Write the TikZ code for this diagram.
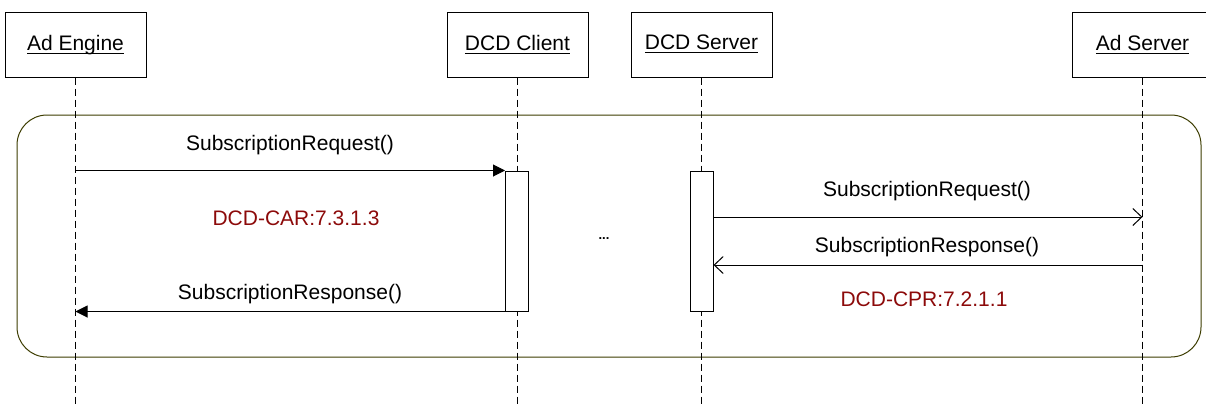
\documentclass[tikz,border=0pt]{standalone}
\usepackage{amsmath}
\usepackage{fontspec}
\setmainfont{Liberation Sans}
\usetikzlibrary{arrows.meta}

\definecolor{refred}{RGB}{140,10,10}
\definecolor{frameolive}{RGB}{60,60,0}
\newcommand\actorname[1]{\underline{\smash[b]{#1}}}

\begin{document}
\begin{tikzpicture}[x=1pt,y=-1pt,line width=1pt,
  actor/.style={draw,minimum width=141pt,minimum height=65pt,inner sep=0pt,font=\fontsize{21}{25}\selectfont},
  lifeline/.style={dash pattern=on 7pt off 4pt},
  actbar/.style={draw,fill=white,minimum width=23pt,minimum height=140pt,inner sep=0pt},
  call/.style={-{Triangle[length=12pt,width=12pt]}},
  answer/.style={-{Straight Barb[length=9pt,width=17pt,line width=1pt]}},
  lbl/.style={font=\fontsize{21}{25}\selectfont},
  reqid/.style={lbl,text=refred}]
\useasboundingbox (0,0) rectangle (1206,407);

% participants
\node[actor] (engine)   at (75.5,44.5)   {\actorname{Ad Engine}};
\node[actor] (client)   at (517.5,44.5)  {\actorname{DCD Client}};
\node[actor] (server)   at (701.5,44.5)  {\actorname{DCD Server}};
\node[actor] (adserver) at (1142.5,44.5) {\actorname{Ad Server}};
\coordinate (bottom) at (0,407);

% frame
\draw[frameolive,rounded corners=30pt] (17,115) rectangle (1201,357);

% lifelines
\foreach \who in {engine,client,server,adserver}
  \draw[lifeline] (\who.south) -- (\who.south |- bottom);

% activations
\node[actbar] (clientbar) at (517,241) {};
\node[actbar] (serverbar) at (701.5,241) {};

% left exchange
\draw[call] (engine.south |- clientbar.north) -- (clientbar.north west);
\node[lbl] (req1) at (290,145) {SubscriptionRequest()};
\node[reqid] (car) at (296,218) {DCD-CAR:7.3.1.3};
\draw[call] (clientbar.south west) -- (engine.south |- clientbar.south);
\node[lbl] (resp1) at (290,294) {SubscriptionResponse()};

\node[font=\fontsize{13}{15}\selectfont\bfseries,anchor=base] (gap) at (604,239) {...};

% right exchange
\coordinate (r1) at (0,217);
\coordinate (r2) at (0,265);
\draw[answer] (serverbar.east |- r1) -- (adserver.south |- r1);
\node[lbl] (req2) at (927,191) {SubscriptionRequest()};
\draw[answer] (adserver.south |- r2) -- (serverbar.east |- r2);
\node[lbl] (resp2) at (927,247) {SubscriptionResponse()};
\node[reqid] (cpr) at (924,299) {DCD-CPR:7.2.1.1};
\end{tikzpicture}
\end{document}
